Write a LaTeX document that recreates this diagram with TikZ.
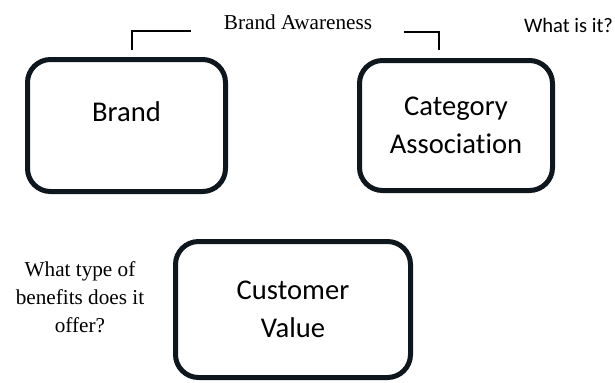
\documentclass[tikz,border=0pt]{standalone}
\usepackage{fontspec}
\setmainfont{Liberation Serif}
\newfontfamily\calibri[Ligatures=NoCommon]{Carlito}
\usetikzlibrary{positioning}
\definecolor{boxline}{RGB}{14,22,30}
\tikzset{box/.style={draw=boxline,line width=2.5pt,rounded corners=11.5pt,align=center,inner sep=0pt,font=\calibri\fontsize{14.3}{19}\selectfont}}
\tikzset{note/.style={align=center,inner sep=0pt,font=\fontsize{10.6}{14}\selectfont}}
\tikzset{brk/.style={line width=1.3pt}}

\begin{document}
\begin{tikzpicture}[x=0.5pt,y=-0.5pt,on grid]
        \useasboundingbox (0,0) rectangle (615,382);
        \node[box, minimum width=99pt, minimum height=66pt, text depth=13.5pt] (B) at (126.5,125.5) {Brand};
        \node[box, minimum width=96.5pt, minimum height=65pt, right=164.75pt of B] (CA) {Category\\Association};
        \node[box, minimum width=117.5pt, minimum height=68pt, below right=92pt and 83.25pt of B] (CV) {Customer\\Value};
        \node[note, above left=6pt and 106.5pt of CV] (Q) {What type of\\benefits does it\\offer?};

        \node[note] (BA) at (298,22) {Brand Awareness};
        \node[note, font=\calibri\fontsize{10.3}{12}\selectfont] (W) at (568.5,25) {What is it?};

        \coordinate (L1) at (132,50);
        \coordinate (L2) at (191,31);
        \coordinate (R1) at (404,32);
        \coordinate (R2) at (439,50);
        \draw[brk] (L1) |- (L2);
        \draw[brk] (R1) -| (R2);
    \end{tikzpicture}
\end{document}
